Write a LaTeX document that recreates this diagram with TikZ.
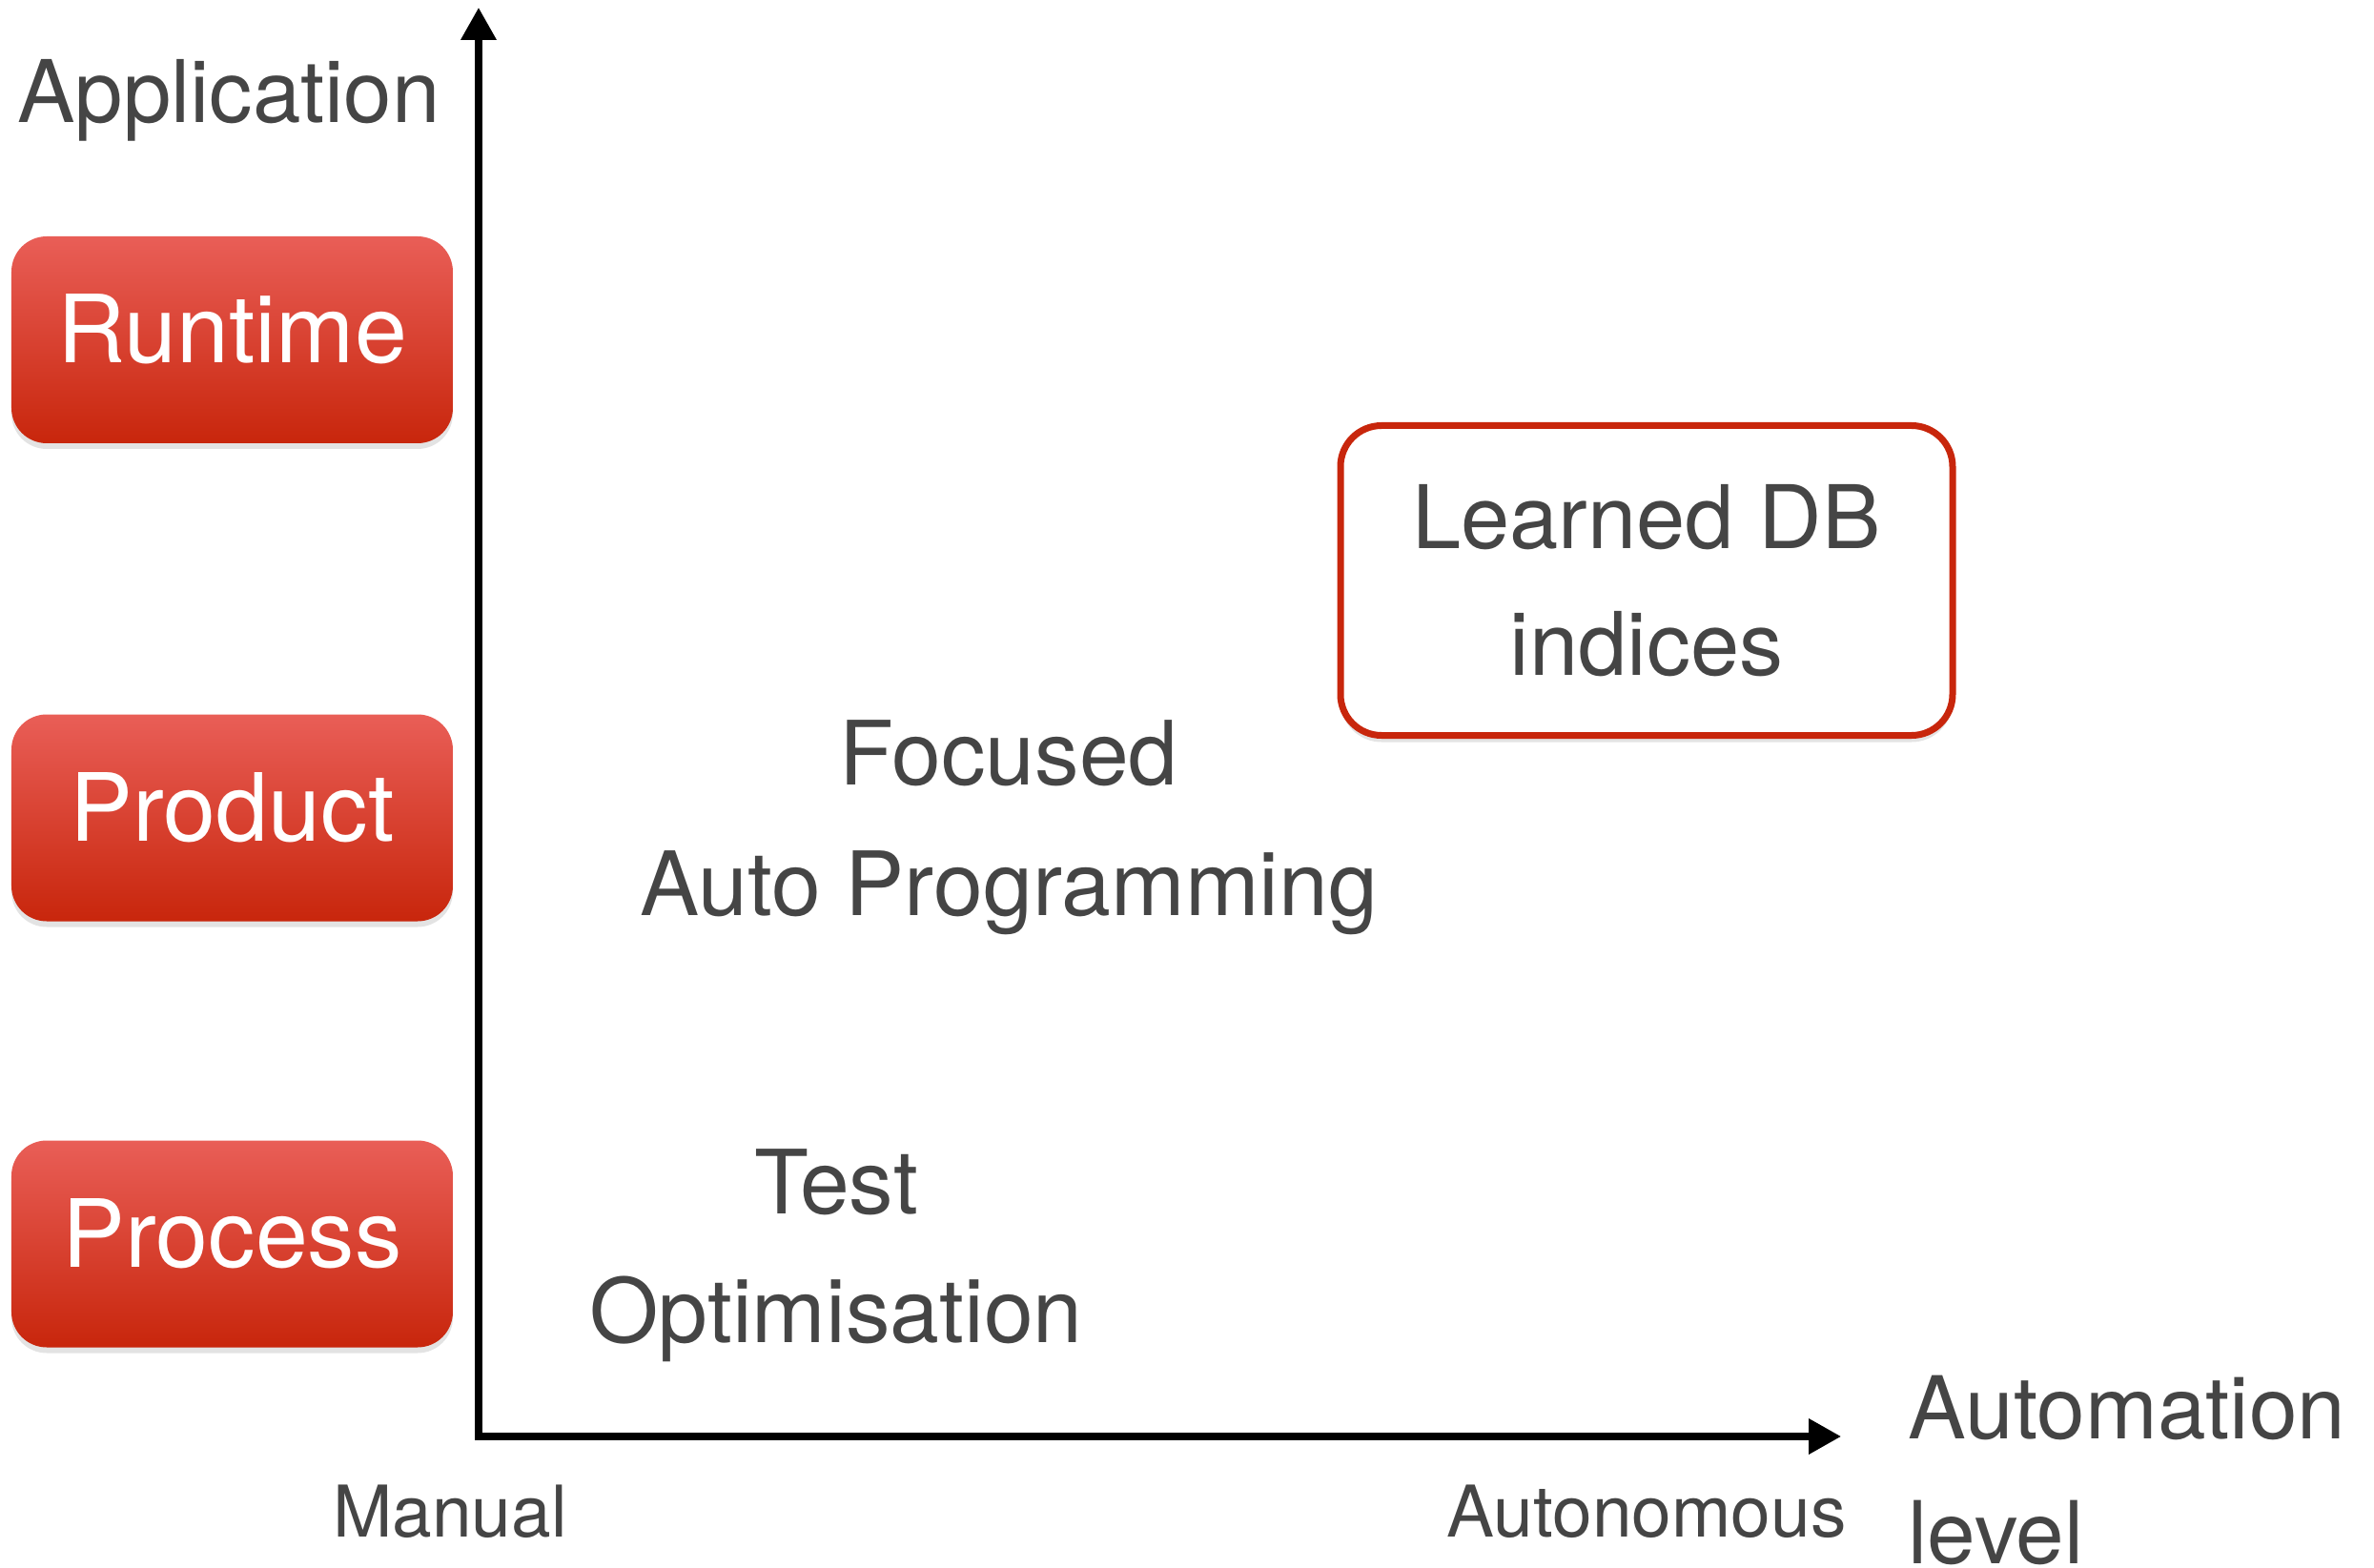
\documentclass[tikz,border=0pt]{standalone}
\usepackage{fontspec}
\setmainfont{TeX Gyre Heros}
\usetikzlibrary{arrows.meta, shadows}
\definecolor{labelgray}{RGB}{69,69,69}
\definecolor{boxtop}{RGB}{233,94,87}
\definecolor{boxbottom}{RGB}{200,38,12}

\begin{document}
\begin{tikzpicture}[
    layerbox/.style={rounded corners=0.37cm, minimum width=4.63cm, minimum height=2.17cm,
        top color=boxtop, bottom color=boxbottom, text=white, inner sep=0pt,
        font=\fontsize{28.1}{33}\selectfont, text height=0.6cm, text depth=0.12cm,
        drop shadow={opacity=0.22, shadow xshift=0cm, shadow yshift=-0.06cm}},
    bigtext/.style={text=labelgray, inner sep=0pt},
    endlabel/.style={text=labelgray, inner sep=0pt, anchor=base, font=\fontsize{21.3}{25}\selectfont},
    axis/.style={line width=2pt, line join=miter,
        {Triangle[length=0.34cm, width=0.36cm]}-{Triangle[length=0.34cm, width=0.36cm]}}
]
    \useasboundingbox (-5.02,-1.37) rectangle (19.88,15.07);

    % axes
    \coordinate (origin) at (0,0);
    \coordinate (ytip) at (0,14.99);
    \coordinate (xtip) at (14.29,0);
    \draw[axis] (ytip) -- (origin) -- (xtip);

    % application layers
    \node[bigtext, anchor=base, font=\fontsize{25.8}{30}\selectfont] (application) at (-2.62,13.78) {Application};
    \node[layerbox] (runtime) at (-2.585,11.505) {Runtime};
    \node[layerbox] (product) at (-2.585,6.49) {Product};
    \node[layerbox] (process) at (-2.585,2.02) {Process};

    % examples in the plane
    \node[bigtext, draw=boxbottom, fill=white, line width=0.07cm, rounded corners=0.43cm,
        minimum width=6.42cm, minimum height=3.25cm, align=center,
        font=\fontsize{26.2}{37.8}\selectfont,
        drop shadow={opacity=0.22, shadow xshift=0cm, shadow yshift=-0.07cm}] (learned) at (12.25,8.98) {Learned DB\\indices};
    \node[bigtext, anchor=base, align=center, font=\fontsize{26.5}{38.7}\selectfont] (focused) at (5.56,5.47) {Focused\\Auto Programming};
    \node[bigtext, anchor=base, align=center, font=\fontsize{26.5}{38.4}\selectfont] (testopt) at (3.75,0.99) {Test\\Optimisation};

    % automation axis labels
    \node[endlabel] (manual) at (-0.30,-1.05) {Manual};
    \node[endlabel] (autonomous) at (12.25,-1.05) {Autonomous};
    \node[bigtext, anchor=base west, align=left, font=\fontsize{25.9}{37}\selectfont] (automation) at (14.99,-1.33) {Automation\\level};
\end{tikzpicture}
\end{document}
